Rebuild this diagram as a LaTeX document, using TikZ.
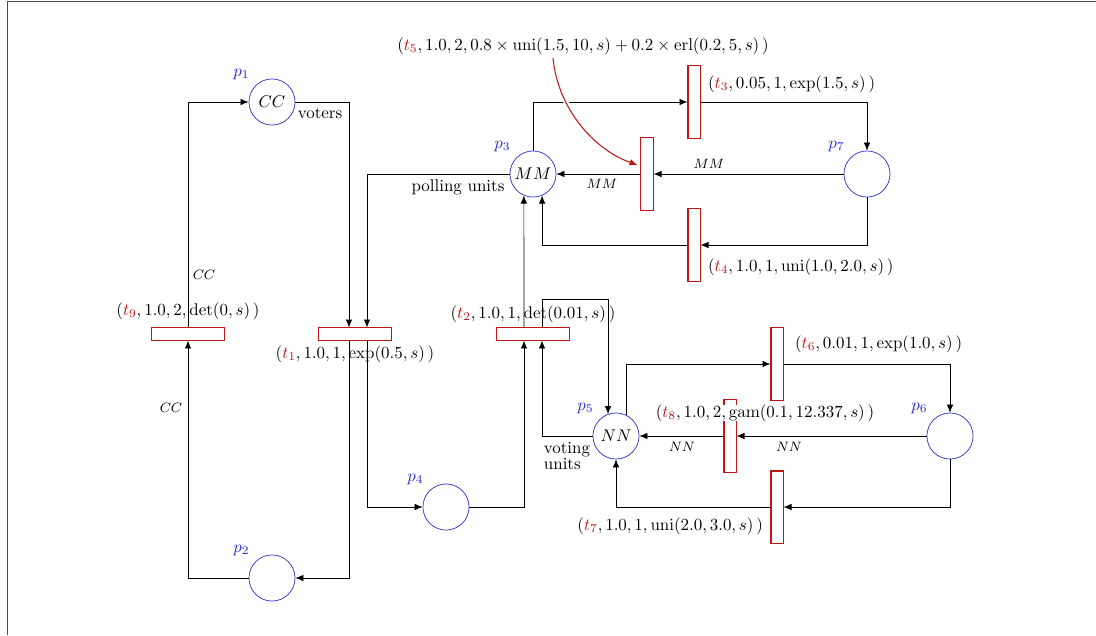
\documentclass[tikz,border=0pt]{standalone}
\usetikzlibrary{arrows.meta,calc}
\definecolor{pblue}{RGB}{40,40,200}
\definecolor{tred}{RGB}{190,20,20}
\newcommand\tl[1]{\textcolor{tred}{t_{#1}}}
\begin{document}
\begin{tikzpicture}[x=0.59pt,y=-0.59pt,
  place/.style={circle,draw=pblue,minimum size=27.2pt,inner sep=0pt},
  plab/.style={text=pblue},
  trh/.style={rectangle,draw=tred,semithick,minimum width=42.5pt,minimum height=7.1pt,inner sep=0pt},
  trv/.style={rectangle,draw=tred,semithick,minimum width=7.1pt,minimum height=42.5pt,inner sep=0pt},
  arc/.style={draw,-{Latex[length=4.7pt,width=3.8pt]}},
  alab/.style={font=\footnotesize},
  tlab/.style={inner sep=1pt},
]
\useasboundingbox (0,0) rectangle (1096,635);
\draw[black!70] (1096,1.5) -- (7,1.5) -- (7,635);

% places
\node[place,label={[plab]135:$p_1$}] (p1) at (272,102) {$CC$};
\node[place,label={[plab]135:$p_2$}] (p2) at (272,578) {};
\node[place,label={[plab]135:$p_3$}] (p3) at (533,174) {$MM$};
\node[place,label={[plab]135:$p_4$}] (p4) at (446,507) {};
\node[place,label={[plab]135:$p_5$}] (p5) at (616,436) {$NN$};
\node[place,label={[plab]135:$p_6$}] (p6) at (950,436) {};
\node[place,label={[plab]135:$p_7$}] (p7) at (867,174) {};

% transitions
\node[trh] (t9) at (188,334) {};
\node[trh] (t1) at (355,334) {};
\node[trh] (t2) at (533,334) {};
\node[trv] (t3) at (694,102) {};
\node[trv] (t5) at (647,174) {};
\node[trv] (t4) at (694,245) {};
\node[trv] (t6) at (777,364) {};
\node[trv] (t8) at (730,436) {};
\node[trv] (t7) at (777,507) {};

% transition labels
\node[tlab] (l9) at (188,311) {$(\tl9, 1.0, 2, \mathrm{det}(0, s)\,)$};
\node[tlab] (l1) at (355,354) {$(\tl1, 1.0, 1, \exp(0.5, s)\,)$};
\node[tlab] (l2) at (533,314) {$(\tl2, 1.0, 1, \mathrm{det}(0.01, s)\,)$};
\node[tlab,anchor=west] (l3) at (706,84) {$(\tl3, 0.05, 1, \exp(1.5, s)\,)$};
\node[tlab,anchor=west] (l4) at (706,267) {$(\tl4, 1.0, 1, \mathrm{uni}(1.0, 2.0, s)\,)$};
\node[tlab,anchor=west] (l6) at (793,344) {$(\tl6, 0.01, 1, \exp(1.0, s)\,)$};
\node[tlab,anchor=east] (l7) at (765,526) {$(\tl7, 1.0, 1, \mathrm{uni}(2.0, 3.0, s)\,)$};
\node[tlab,fill=white,inner sep=0pt] (l8) at (765,413) {$(\tl8, 1.0, 2, \mathrm{gam}(0.1, 12.337, s)\,)$};
\node[tlab] (l5) at (583,46) {$(\tl5, 1.0, 2, 0.8\times\mathrm{uni}(1.5, 10, s) + 0.2\times\mathrm{erl}(0.2, 5, s)\,)$};

% arcs
\draw[arc] (p1.east) -| ($(t1.north)+(-6,0)$);
\draw[arc] ($(t1.south)+(-6,0)$) |- (p2.east);
\draw[arc] (p2.west) -| (t9.south);
\draw[arc] (t9.north) |- (p1.west);
\draw[arc] (p3.west) -| ($(t1.north)+(12,0)$);
\draw[arc] ($(t1.south)+(12,0)$) |- (p4.west);
\draw[arc] (p4.east) -| ($(t2.south)+(-9,0)$);
\draw[arc] ($(t2.north)+(-9,0)$) -- (p3.-113);
\draw[arc] (p7.south) |- (t4.east);
\draw[arc] (t4.west) -| (p3.-67);
\draw[arc] (p3.north) |- (t3.west);
\draw[arc] (t3.east) -| (p7.north);
\draw[arc] (p7.west) -- (t5.east);
\draw[arc] (t5.west) -- (p3.east);
\draw[arc] (p5.64) |- (t6.west);
\draw[arc] (t6.east) -| (p6.north);
\draw[arc] (p6.west) -- (t8.east);
\draw[arc] (t8.west) -- (p5.east);
\draw[arc] (p6.south) |- (t7.east);
\draw[arc] (t7.west) -| (p5.south);
\draw[arc] (p5.west) -| ($(t2.south)+(9,0)$);
\draw[arc] ($(t2.north)+(9,0)$) -- ++(0,-28) -| (p5.110);

% arc labels
\node (voters) at (320,113) {voters};
\node[alab] (cc1) at (204,275) {$CC$};
\node[alab] (cc2) at (171,408) {$CC$};
\node (poll) at (458,187) {polling units};
\node[alab] (mm1) at (709,164) {$MM$};
\node[alab] (mm2) at (602,184) {$MM$};
\node[alab] (nn1) at (682,447) {$NN$};
\node[alab] (nn2) at (789,447) {$NN$};
\node[align=left,inner sep=0pt] (vot) at (567,456) {voting\\[-2pt]units};

% red pointer
\coordinate (r0) at (553,58);
\coordinate (r1) at ($(t5.west)+(-3,-9)$);
\draw[tred,semithick,-{Latex[length=4.7pt,width=3.8pt]},preaction={draw=white,line width=3pt,-}]
  (r0) .. controls (558,110) and (595,150) .. (r1);
\end{tikzpicture}
\end{document}
